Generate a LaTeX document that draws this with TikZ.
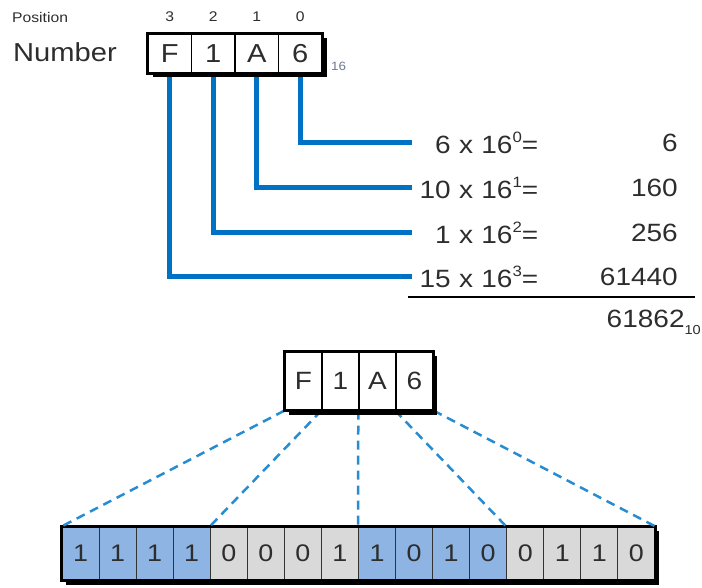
\documentclass[tikz,border=0pt]{standalone}
\usepackage{fontspec}
\setmainfont[FakeStretch=1.12]{Liberation Sans}
\definecolor{lineblue}{RGB}{0,114,198}
\definecolor{dashblue}{RGB}{40,140,210}
\definecolor{bitblue}{RGB}{141,180,226}
\definecolor{bitgray}{RGB}{217,217,217}
\definecolor{txt}{RGB}{45,45,45}
\definecolor{subgray}{RGB}{110,120,145}
\newcommand\mysup[1]{\raisebox{0.42em}{\fontsize{15}{15}\selectfont #1}}
\begin{document}
\begin{tikzpicture}[x=1pt,y=-1pt,
  topcell/.style={draw=black, line width=1.4pt, fill=white, minimum width=43.5pt, minimum height=39pt, inner sep=0pt, text=txt, font=\fontsize{26}{26}\selectfont},
  midcell/.style={draw=black, line width=1.4pt, fill=white, minimum width=37pt, minimum height=58pt, inner sep=0pt, text=txt, font=\fontsize{25}{25}\selectfont},
  bitcell/.style={draw=black!80, line width=1pt, minimum width=37.06pt, minimum height=53pt, inner sep=0pt, text=txt, font=\fontsize{24}{24}\selectfont},
  onebit/.style={bitcell, fill=bitblue},
  zerobit/.style={bitcell, fill=bitgray},
  posnum/.style={text=txt, font=\fontsize{14}{14}\selectfont, inner sep=0pt},
  formula/.style={anchor=west, text width=126pt, align=right, inner sep=0pt, text=txt, font=\fontsize{25}{25}\selectfont},
  valnum/.style={anchor=east, inner sep=0pt, text=txt, font=\fontsize{25}{25}\selectfont},
  conn/.style={lineblue, line width=5pt},
  dashline/.style={dashblue, line width=2.5pt, dash pattern=on 9pt off 6pt},
  frame/.style={draw=black, line width=2.6pt}
]
\useasboundingbox (0,0) rectangle (702,588);

% ---------- top part ----------
\node[posnum, anchor=west] (poslbl) at (12,17) {Position};
\node[posnum] (pos3) at (169.75,17) {3};
\node[posnum] (pos2) at (213.25,17) {2};
\node[posnum] (pos1) at (256.75,17) {1};
\node[posnum] (pos0) at (300.25,17) {0};
\node[anchor=west, inner sep=0pt, text=txt, font=\fontsize{26}{26}\selectfont] (numlbl) at (13,52) {Number};

% formulas and values
\node[formula] (f0) at (412,143) {6 x 16\mysup{0}=};
\node[formula] (f1) at (412,188) {10 x 16\mysup{1}=};
\node[formula] (f2) at (412,233) {1 x 16\mysup{2}=};
\node[formula] (f3) at (412,277) {15 x 16\mysup{3}=};
\node[valnum] (v0) at (678,143) {6};
\node[valnum] (v1) at (678,188) {160};
\node[valnum] (v2) at (678,233) {256};
\node[valnum] (v3) at (678,277) {61440};
\coordinate (r1) at (408,297);
\coordinate (r2) at (695,297);
\draw[black, line width=2pt] (r1) -- (r2);
\node[anchor=east, inner sep=0pt, text=txt, font=\fontsize{25}{25}\selectfont] (total) at (701,322) {61862\raisebox{-0.28em}{\fontsize{13}{13}\selectfont 10}};

% cell positions (for connectors drawn under the box)
\coordinate (c3) at (169.75,60);
\coordinate (c2) at (213.25,60);
\coordinate (c1) at (256.75,60);
\coordinate (c0) at (300.25,60);
\draw[conn] (c3) |- (f3.west);
\draw[conn] (c2) |- (f2.west);
\draw[conn] (c1) |- (f1.west);
\draw[conn] (c0) |- (f0.west);

% top box
\fill[black] (152.5,38) rectangle (326.5,77.5);
\node[topcell] (p3) at (169.75,53.5) {F};
\node[topcell] (p2) at (213.25,53.5) {1};
\node[topcell] (p1) at (256.75,53.5) {A};
\node[topcell] (p0) at (300.25,53.5) {6};
\draw[frame] (p3.north west) rectangle (p0.south east);
\node[anchor=west, inner sep=0pt, text=subgray, font=\fontsize{12}{12}\selectfont] (base16) at (331,66) {16};

% ---------- bottom part ----------
% bits
\fill[black] (66,531) rectangle (659,584.5);
\foreach \i/\v in {1/1,2/1,3/1,4/1,5/0,6/0,7/0,8/1,9/1,10/0,11/1,12/0,13/0,14/1,15/1,16/0}{
  \pgfmathsetmacro{\cx}{62+(\i-0.5)*37.0625}
  \ifnum\i<5 \def\sty{onebit}\else\ifnum\i<9 \def\sty{zerobit}\else\ifnum\i<13 \def\sty{onebit}\else\def\sty{zerobit}\fi\fi\fi
  \node[\sty] (b\i) at (\cx,553.5) {\v};
}
\draw[frame] (b1.north west) rectangle (b16.south east);

% middle box
\node[midcell] (q3) at (303.5,381) {F};
\node[midcell] (q2) at (340.5,381) {1};
\node[midcell] (q1) at (377.5,381) {A};
\node[midcell] (q0) at (414.5,381) {6};

\draw[dashline] (q3.south west) -- (b1.north west);
\draw[dashline] (q2.south west) -- (b5.north west);
\draw[dashline] (q1.south west) -- (b9.north west);
\draw[dashline] (q0.south west) -- (b13.north west);
\draw[dashline] (q0.south east) -- (b16.north east);

\fill[black] (289,356) rectangle (437,414.5);
\node[midcell] at (q3) {F};
\node[midcell] at (q2) {1};
\node[midcell] at (q1) {A};
\node[midcell] at (q0) {6};
\draw[frame] (q3.north west) rectangle (q0.south east);
\end{tikzpicture}
\end{document}
